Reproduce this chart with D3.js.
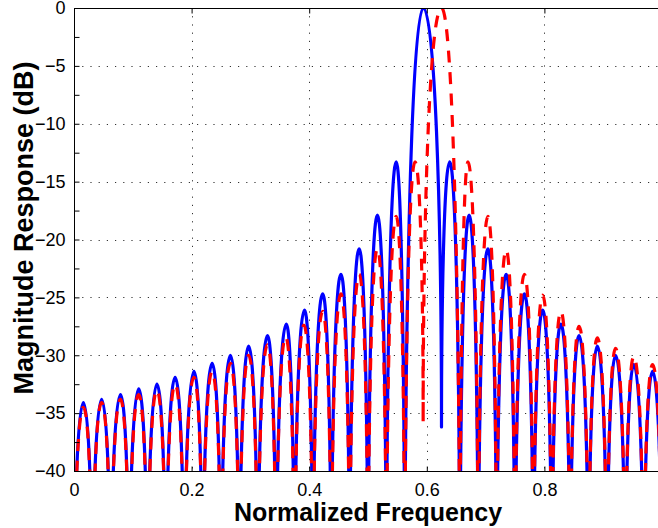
<!DOCTYPE html>
<html>
<head>
<meta charset="utf-8">
<script src="https://cdn.jsdelivr.net/npm/d3@7"></script>
<style>
    body { margin: 0; background: #fff; }
    svg { display: block; }
</style>
</head>
<body>
<svg width="658" height="528"></svg>
<script>
// axis ticks
const xTicks = [0, 0.2, 0.4, 0.6, 0.8];
const yTicks = [0, -5, -10, -15, -20, -25, -30, -35, -40];
const yMinorTicks = [-2.5, -7.5, -12.5, -17.5, -22.5, -27.5, -32.5, -37.5];

// blue (solid) response: nulls that fall below the axis, one shallow null, lobe peaks
const blueNullFreq = [0, 0.0313, 0.0625, 0.0938, 0.125, 0.1563, 0.1875, 0.2188, 0.25, 0.2813,
    0.3125, 0.3438, 0.375, 0.4063, 0.4375, 0.4688, 0.5, 0.5313, 0.5625,
    0.6563, 0.6875, 0.7188, 0.75, 0.7813, 0.8125, 0.8438, 0.875, 0.9063, 0.9375, 0.9688, 1.0];
const blueShallowFreq = [0.625];
const blueShallowDb = [-36.2];
const bluePeakFreq = [0.016, 0.047, 0.079, 0.110, 0.141, 0.172, 0.204, 0.235, 0.266, 0.297,
    0.329, 0.361, 0.392, 0.423, 0.454, 0.485, 0.516, 0.548, 0.594,
    0.639, 0.672, 0.704, 0.735, 0.766, 0.797, 0.828, 0.859, 0.890, 0.921, 0.952, 0.984];
const bluePeakDb = [-34.1, -33.8, -33.4, -32.9, -32.5, -31.9, -31.4, -30.7, -30.0, -29.2,
    -28.3, -27.3, -26.1, -24.7, -23.0, -20.8, -17.9, -13.3, 0,
    -13.3, -17.9, -20.8, -23.0, -24.7, -26.1, -27.3, -28.3, -29.2, -30.0, -30.8, -31.4];

// red (dashed) response
const redNullFreq = [0, 0.0313, 0.0625, 0.0938, 0.125, 0.1563, 0.1875, 0.2188, 0.25, 0.2813,
    0.3125, 0.3438, 0.375, 0.4063, 0.4375, 0.4688, 0.5, 0.5313, 0.5625,
    0.6563, 0.6875, 0.7188, 0.75, 0.7813, 0.8125, 0.8438, 0.875, 0.9063, 0.9375, 0.9688, 1.0];
const redShallowFreq = [0.5938];
const redShallowDb = [-35.8];
const redPeakFreq = [0.016, 0.047, 0.079, 0.110, 0.141, 0.172, 0.204, 0.235, 0.266, 0.297,
    0.329, 0.360, 0.391, 0.423, 0.454, 0.485, 0.516, 0.548, 0.580, 0.625,
    0.670, 0.704, 0.735, 0.766, 0.797, 0.828, 0.859, 0.890, 0.921, 0.952, 0.984];
const redPeakDb = [-34.5, -34.1, -33.8, -33.4, -33.0, -32.5, -31.9, -31.4, -30.7, -30.0,
    -29.1, -28.4, -27.4, -26.2, -24.7, -23.0, -20.8, -18.0, -13.3, 0,
    -13.3, -18.0, -20.9, -23.0, -24.8, -26.2, -27.5, -28.5, -29.4, -30.1, -30.8];

const nullFloorDb = -55; // nulls go to -inf, draw them well below the axis

const svg = d3.select("svg");
const plotLeft = 74, plotTop = 8, plotRight = 662, plotBottom = 471;

const x = d3.scaleLinear().domain([0, 1]).range([plotLeft, plotRight]);
const y = d3.scaleLinear().domain([-40, 0]).range([plotBottom, plotTop]);

const font = "'Liberation Sans', Arial, Helvetica, sans-serif";

svg.append("defs").append("clipPath").attr("id", "plot-clip")
    .append("rect")
    .attr("x", plotLeft).attr("y", plotTop)
    .attr("width", plotRight - plotLeft).attr("height", plotBottom - plotTop);

// dotted grid
const grid = svg.append("g").attr("stroke", "#333").attr("stroke-width", 1)
    .attr("stroke-dasharray", "1.2,7");
grid.selectAll(".gx").data(xTicks.filter(d => d > 0)).enter().append("line")
    .attr("x1", d => Math.round(x(d)) + 0.5).attr("x2", d => Math.round(x(d)) + 0.5)
    .attr("y1", plotTop).attr("y2", plotBottom);
grid.selectAll(".gy").data(yTicks.filter(d => d > -40 && d < 0)).enter().append("line")
    .attr("x1", plotLeft).attr("x2", plotRight)
    .attr("y1", d => Math.round(y(d)) + 0.5).attr("y2", d => Math.round(y(d)) + 0.5);

// lobe curve: vertical tangent at nulls, flat tangent at peaks
function lobeCurve(context) {
    let x0, y0, n;
    const kv = 0.55, kh = 0.6;
    return {
        areaStart() {}, areaEnd() {},
        lineStart() { n = 0; },
        lineEnd() {},
        point(px, py) {
            if (n++ === 0) {
                context.moveTo(px, py);
            } else if (py < y0) {
                context.bezierCurveTo(x0, y0 + kv * (py - y0), px - kh * (px - x0), py, px, py);
            } else {
                context.bezierCurveTo(x0 + kh * (px - x0), y0, px, py - kv * (py - y0), px, py);
            }
            x0 = px; y0 = py;
        }
    };
}

function buildSeries(nullFreq, shallowFreq, shallowDb, peakFreq, peakDb) {
    const pts = nullFreq.map(f => ({ f: f, db: nullFloorDb }))
        .concat(shallowFreq.map((f, i) => ({ f: f, db: shallowDb[i] })))
        .concat(peakFreq.map((f, i) => ({ f: f, db: peakDb[i] })));
    return pts.sort((a, b) => a.f - b.f);
}

const line = d3.line().x(d => x(d.f)).y(d => y(d.db)).curve(lobeCurve);

const plot = svg.append("g").attr("clip-path", "url(#plot-clip)");

plot.append("path")
    .datum(buildSeries(blueNullFreq, blueShallowFreq, blueShallowDb, bluePeakFreq, bluePeakDb))
    .attr("d", line)
    .attr("fill", "none")
    .attr("stroke", "#0000ff")
    .attr("stroke-width", 3.2)
    .attr("stroke-linejoin", "round");

plot.append("path")
    .datum(buildSeries(redNullFreq, redShallowFreq, redShallowDb, redPeakFreq, redPeakDb))
    .attr("d", line)
    .attr("fill", "none")
    .attr("stroke", "#ff0000")
    .attr("stroke-width", 3.2)
    .attr("stroke-dasharray", "12,9.5");

// axes box
const box = svg.append("g").attr("stroke", "#000").attr("stroke-width", 1).attr("fill", "none");
box.append("line").attr("x1", plotLeft + 0.5).attr("x2", plotLeft + 0.5).attr("y1", plotTop).attr("y2", plotBottom + 0.5);
box.append("line").attr("x1", plotLeft).attr("x2", plotRight).attr("y1", plotBottom + 0.5).attr("y2", plotBottom + 0.5);
box.append("line").attr("x1", plotLeft).attr("x2", plotRight).attr("y1", plotTop + 0.5).attr("y2", plotTop + 0.5);

// ticks (inside) and labels
svg.append("g").attr("transform", `translate(${plotLeft + 0.5},0)`)
    .call(d3.axisLeft(y).tickValues(yTicks).tickSize(-5).tickPadding(9)
        .tickFormat(d => d === 0 ? "0" : "\u2212" + Math.abs(d)));
svg.append("g").attr("transform", `translate(${plotLeft + 0.5},0)`)
    .call(d3.axisLeft(y).tickValues(yMinorTicks).tickSize(-5).tickFormat(""));

svg.append("g").attr("transform", `translate(0,${plotBottom + 0.5})`)
    .call(d3.axisBottom(x).tickValues(xTicks).tickSize(-5).tickPadding(12)
        .tickFormat(d => d === 0 ? "0" : d3.format(".1f")(d)));
svg.append("g").attr("transform", `translate(0,${plotTop + 0.5})`)
    .call(d3.axisTop(x).tickValues(xTicks).tickSize(-5).tickFormat(""));

svg.selectAll(".domain").remove();
svg.selectAll(".tick line").attr("stroke", "#000");
svg.selectAll(".tick text")
    .attr("font-family", font)
    .attr("font-size", 18)
    .attr("fill", "#000");

svg.append("text")
    .attr("x", (plotLeft + plotRight) / 2)
    .attr("y", 521)
    .attr("text-anchor", "middle")
    .attr("font-family", font)
    .attr("font-size", 25)
    .attr("font-weight", "bold")
    .text("Normalized Frequency");

svg.append("text")
    .attr("transform", "translate(33,228) rotate(-90)")
    .attr("text-anchor", "middle")
    .attr("font-family", font)
    .attr("font-size", 27)
    .attr("font-weight", "bold")
    .text("Magnitude Response (dB)");
</script>
</body>
</html>
